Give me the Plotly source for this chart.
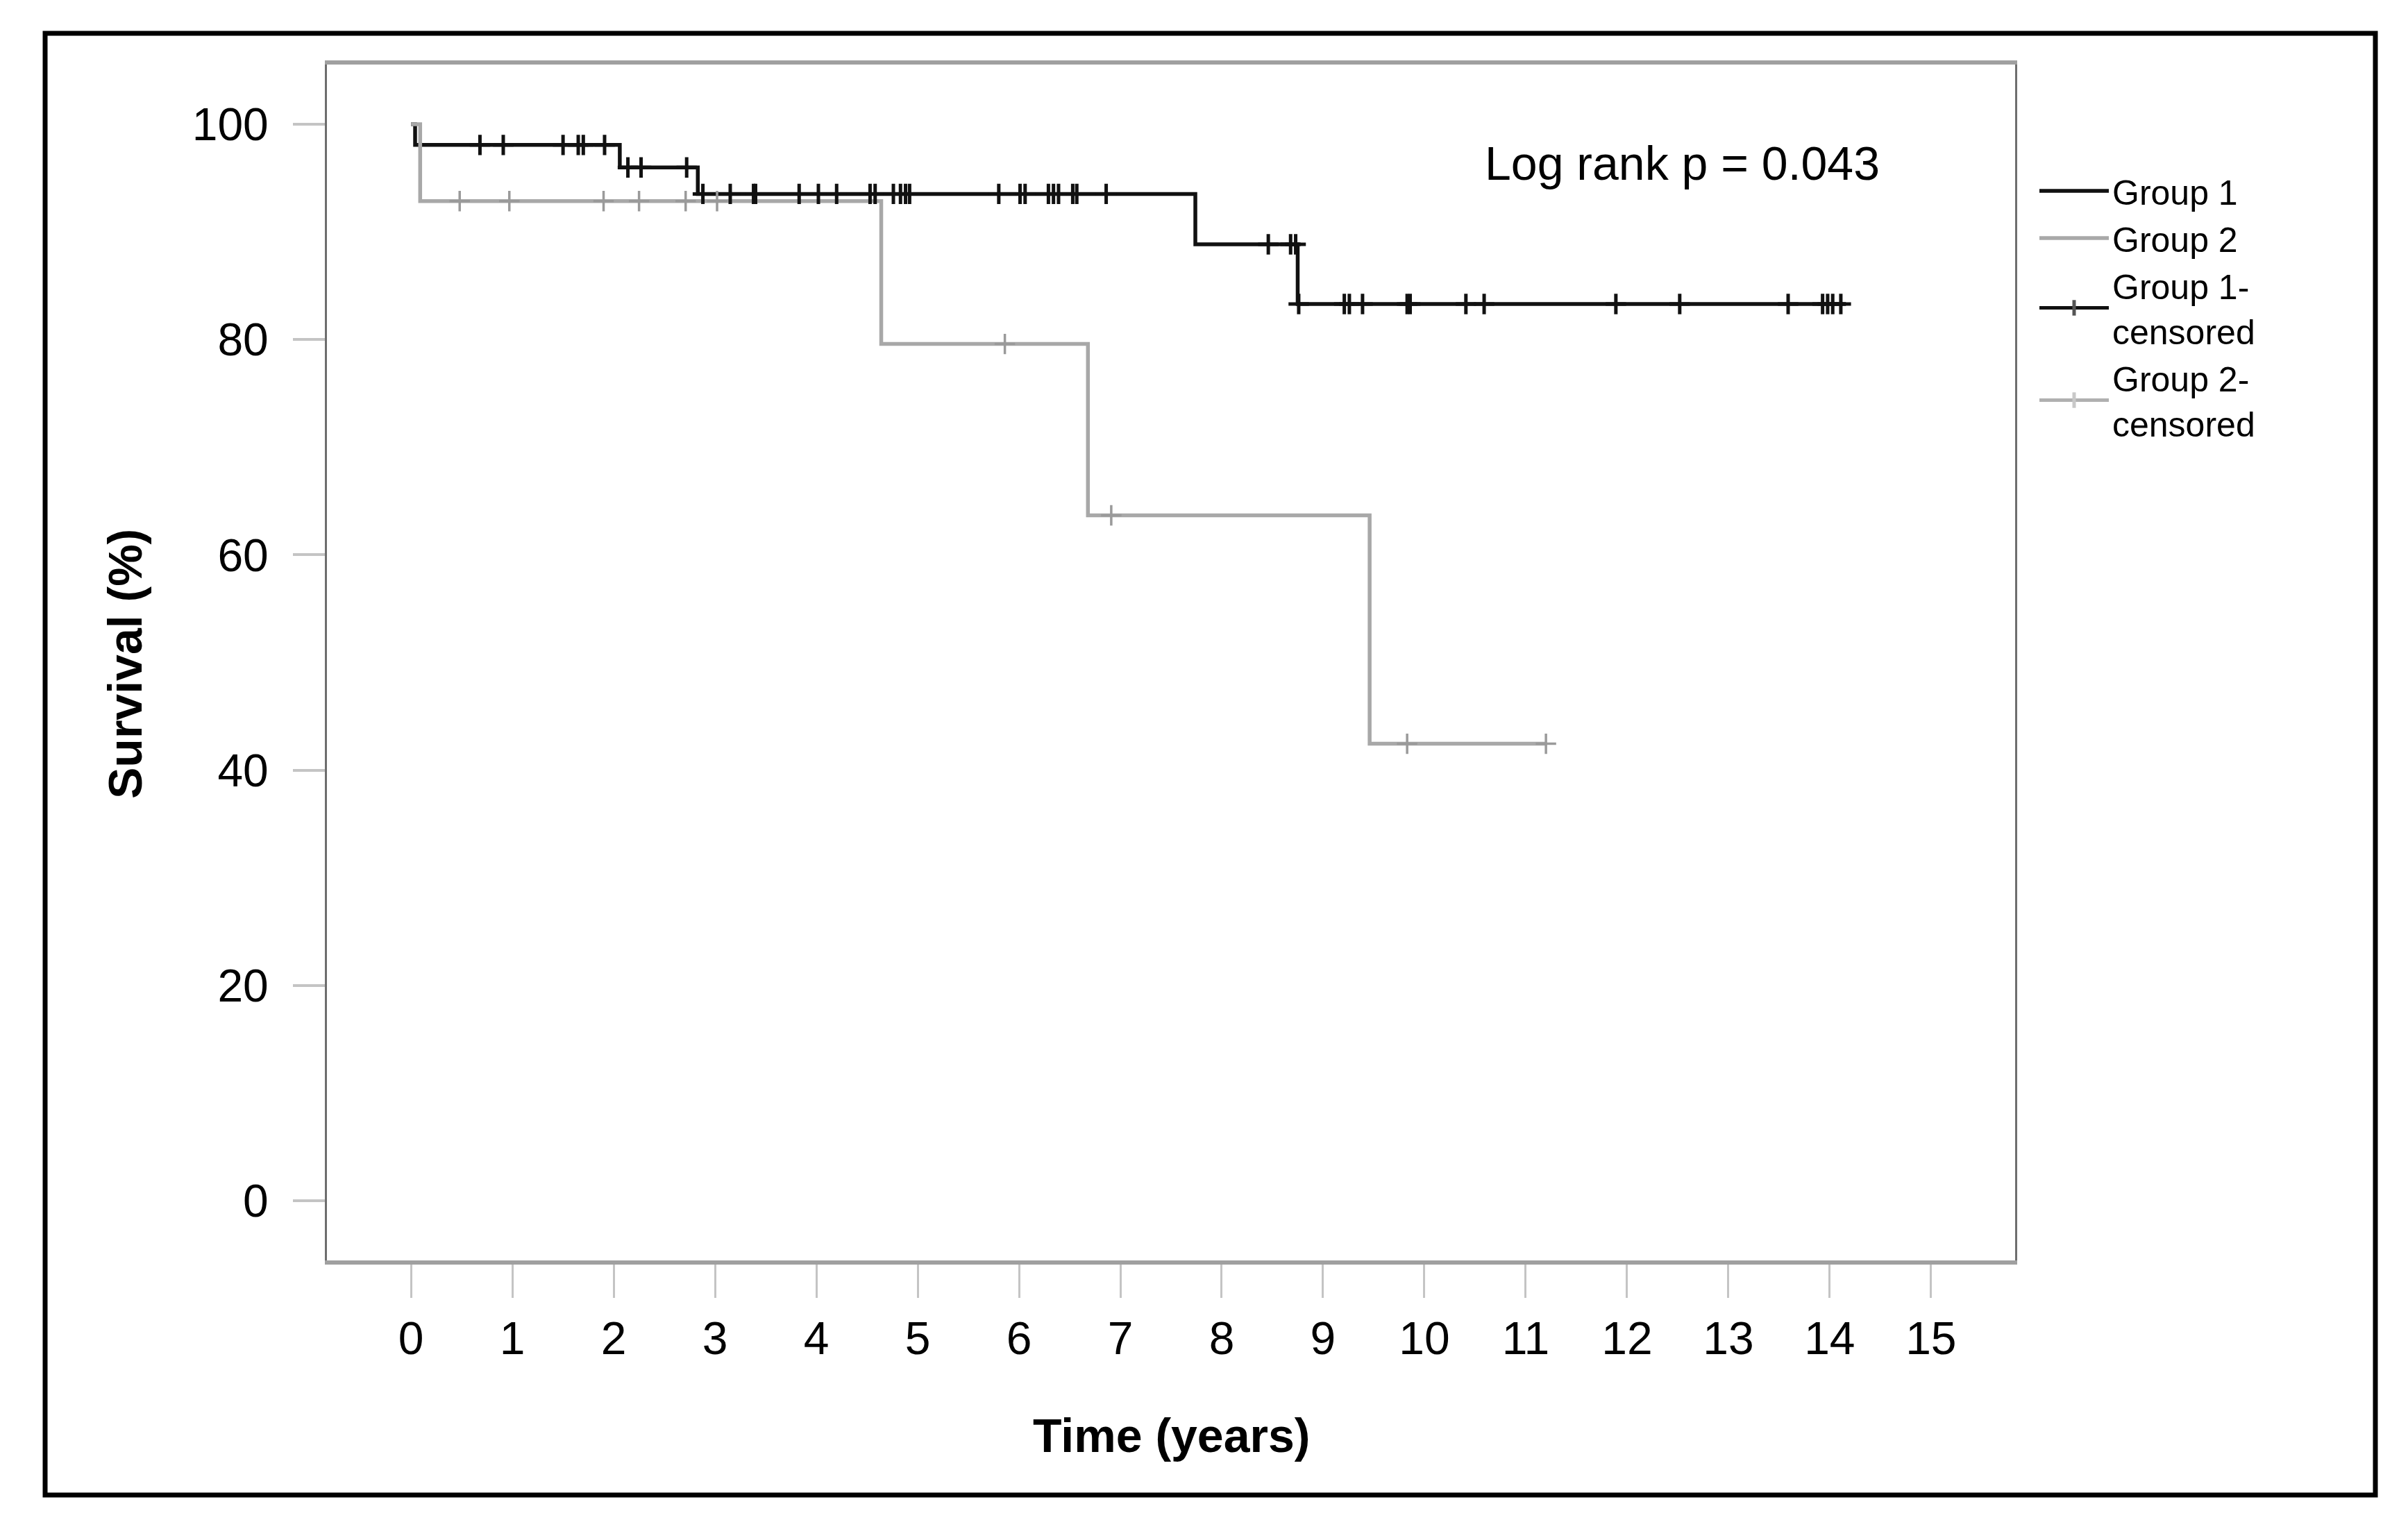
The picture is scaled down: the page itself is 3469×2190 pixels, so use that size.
import plotly.graph_objects as go

# ---- data ----
g1_times = [0.0, 0.04, 2.06, 2.83, 7.74, 8.75, 14.16]
g1_surv = [100.0, 98.08, 95.99, 93.53, 88.85, 83.30, 83.30]

g2_times = [0.0, 0.09, 4.64, 6.68, 9.46, 11.20]
g2_surv = [100.0, 92.86, 79.59, 63.67, 42.45, 42.45]

g1_cens_t = [0.68, 0.91, 1.50, 1.65, 1.70, 1.91,
             2.14, 2.27, 2.72,
             2.88, 3.15, 3.38, 3.40, 3.83, 4.02, 4.20, 4.53, 4.58, 4.76, 4.83, 4.88, 4.92,
             5.80, 6.01, 6.06, 6.29, 6.34, 6.39, 6.53, 6.57, 6.86,
             8.46, 8.68, 8.73,
             8.76, 9.21, 9.26, 9.39, 9.83, 9.86, 10.41, 10.59, 11.89, 12.52, 13.59,
             13.93, 13.98, 14.03, 14.11]
g1_cens_s = [98.08] * 6 + [95.99] * 3 + [93.53] * 22 + [88.85] * 3 + [83.30] * 15

g2_cens_t = [0.48, 0.97, 1.90, 2.25, 2.71, 3.02, 5.86, 6.91, 9.83, 11.20]
g2_cens_s = [92.86] * 6 + [79.59, 63.67, 42.45, 42.45]

x_ticks = list(range(0, 16))
y_ticks = [0, 20, 40, 60, 80, 100]

series_names = ["Group 1", "Group 2", "Group 1-<br>censored", "Group 2-<br>censored"]
pvalue_text = "Log rank p = 0.043"
x_title = "Time (years)"
y_title = "Survival (%)"

# ---- styles ----
C1 = "#111111"
C2 = "#a8a8a8"
C2M = "#9a9a9a"
FONT = "Liberation Sans, Arial, sans-serif"

W, H = 3469, 2190
L, R, T, B = 463, 3469 - 2895, 85, 2190 - 1808
PW, PH = W - L - R, H - T - B

def px_to_paper_x(px):
    return (px - L) / PW

def px_to_paper_y(py):
    return (H - B - py) / PH

fig = go.Figure()
fig.add_trace(go.Scatter(x=g1_times, y=g1_surv, mode="lines", line_shape="hv",
                         line=dict(color=C1, width=5.5), name=series_names[0]))
fig.add_trace(go.Scatter(x=g2_times, y=g2_surv, mode="lines", line_shape="hv",
                         line=dict(color=C2, width=5.5), name=series_names[1]))
fig.add_trace(go.Scatter(x=g1_cens_t, y=g1_cens_s, mode="markers", name=series_names[2],
                         showlegend=False, legendgroup="c1",
                         marker=dict(symbol="cross-thin-open", size=21, color=C1,
                                     line=dict(color=C1, width=5))))
fig.add_trace(go.Scatter(x=g2_cens_t, y=g2_cens_s, mode="markers", name=series_names[3],
                         showlegend=False, legendgroup="c2",
                         marker=dict(symbol="cross-thin-open", size=21, color=C2M,
                                     line=dict(color=C2M, width=3.5))))
# legend entries for the censored marks (line through a cross, as in the reference key)
fig.add_trace(go.Scatter(x=[None], y=[None], mode="lines+markers", name=series_names[2],
                         legendgroup="c1", line=dict(color=C1, width=5),
                         marker=dict(symbol="line-ns-open", size=40, color="#555555",
                                     line=dict(color="#555555", width=5))))
fig.add_trace(go.Scatter(x=[None], y=[None], mode="lines+markers", name=series_names[3],
                         legendgroup="c2", line=dict(color="#b0b0b0", width=5),
                         marker=dict(symbol="line-ns-open", size=40, color="#c8c8c8",
                                     line=dict(color="#c8c8c8", width=5))))

fig.update_layout(
    width=W, height=H,
    margin=dict(l=L, r=R, t=T, b=B, pad=0),
    paper_bgcolor="white", plot_bgcolor="white",
    font=dict(family=FONT, size=66, color="black"),
    showlegend=True,
    legend=dict(x=px_to_paper_x(2925), y=px_to_paper_y(228), xanchor="left", yanchor="top",
                font=dict(family=FONT, size=50, color="black"),
                itemwidth=100, traceorder="normal", bgcolor="rgba(0,0,0,0)",
                tracegroupgap=0, itemsizing="trace"),
    xaxis=dict(range=[-0.83, 15.83], tickmode="array", tickvals=x_ticks,
               ticktext=[str(v) for v in x_ticks],
               showgrid=False, zeroline=False,
               showline=True, linecolor="#a0a0a0", linewidth=6, mirror=True,
               ticks="outside", ticklen=48, tickwidth=3, tickcolor="#c4c4c4",
               ticklabelstandoff=2,
               tickfont=dict(family=FONT, size=66, color="black")),
    yaxis=dict(range=[-5.55, 105.55], tickmode="array", tickvals=y_ticks,
               ticktext=[str(v) for v in y_ticks],
               showgrid=False, zeroline=False,
               showline=True, linecolor="#6e6e6e", linewidth=3, mirror=True,
               ticks="outside", ticklen=46, tickwidth=4, tickcolor="#c4c4c4",
               ticklabelstandoff=22,
               tickfont=dict(family=FONT, size=66, color="black")),
)

# axis titles
fig.add_annotation(text="<b>" + x_title + "</b>", xref="paper", yref="paper",
                   x=0.5, y=px_to_paper_y(2060), xanchor="center", yanchor="middle",
                   showarrow=False, font=dict(family=FONT, size=68, color="black"))
fig.add_annotation(text="<b>" + y_title + "</b>", xref="paper", yref="paper",
                   x=px_to_paper_x(172), y=px_to_paper_y(949), xanchor="center", yanchor="middle",
                   textangle=-90, showarrow=False, font=dict(family=FONT, size=68, color="black"))

# log-rank annotation
fig.add_annotation(text=pvalue_text, xref="x", yref="y", x=10.58, y=96.4,
                   xanchor="left", yanchor="middle", showarrow=False,
                   font=dict(family=FONT, size=68, color="black"))

# outer frame
fig.add_shape(type="rect", xref="paper", yref="paper",
              x0=px_to_paper_x(57), x1=px_to_paper_x(3414),
              y0=px_to_paper_y(2146), y1=px_to_paper_y(40),
              line=dict(color="black", width=7), fillcolor="rgba(0,0,0,0)", layer="above")

fig.write_html("out.html")
